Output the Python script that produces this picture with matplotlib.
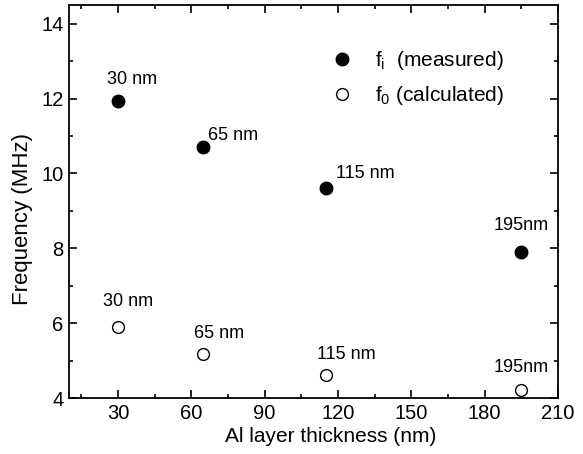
import matplotlib.pyplot as plt

plt.rcParams['font.family'] = ['Liberation Sans', 'DejaVu Sans']
plt.rcParams['mathtext.fontset'] = 'custom'
plt.rcParams['mathtext.rm'] = 'Liberation Sans'
plt.rcParams['mathtext.it'] = 'Liberation Sans'
plt.rcParams['mathtext.default'] = 'regular'

# data
thickness = [30, 65, 115, 195]
f_measured = [11.93, 10.70, 9.60, 7.90]
f_calculated = [5.90, 5.17, 4.62, 4.21]
labels_measured = ['30 nm', '65 nm', '115 nm', '195nm']
labels_calculated = ['30 nm', '65 nm', '115 nm', '195nm']

# label offsets (pixels) and alignment
offs_measured = [(-11, 22, 'left'), (5, 12, 'left'), (10, 15, 'left'), (0, 27, 'center')]
offs_calculated = [(-15, 25, 'left'), (-9, 21, 'left'), (-9, 20, 'left'), (0, 23, 'center')]

fig = plt.figure(figsize=(5.83, 4.54), dpi=100)
ax = fig.add_axes([0.1184, 0.1233, 0.957 - 0.1184, 0.989 - 0.1233])

ax.plot(thickness, f_measured, 'o', color='black', markersize=9, linestyle='none',
        label=r'f$_{\mathregular{i}}$  (measured)')
ax.plot(thickness, f_calculated, 'o', markerfacecolor='white', markeredgecolor='black',
        markeredgewidth=1.0, markersize=8.5, linestyle='none',
        label=r'f$_{\mathregular{0}}$ (calculated)')

for x, y, lab, (dx, dy, ha) in zip(thickness, f_measured, labels_measured, offs_measured):
    ax.annotate(lab, (x, y), xytext=(dx, dy), textcoords='offset pixels',
                ha=ha, va='center', fontsize=13)
for x, y, lab, (dx, dy, ha) in zip(thickness, f_calculated, labels_calculated, offs_calculated):
    ax.annotate(lab, (x, y), xytext=(dx, dy), textcoords='offset pixels',
                ha=ha, va='center', fontsize=13)

ax.set_xlim(10, 210)
ax.set_ylim(4, 14.5)
ax.set_xticks([30, 60, 90, 120, 150, 180, 210])
ax.set_xticks(range(15, 210, 30), minor=True)
ax.set_yticks([4, 6, 8, 10, 12, 14])
ax.set_yticks([5, 7, 9, 11, 13], minor=True)
ax.tick_params(which='both', direction='in', top=True, right=True, labelsize=14.5, width=1.2)
ax.tick_params(which='major', length=5.5, pad=4)
ax.tick_params(which='minor', length=3)
for s in ax.spines.values():
    s.set_linewidth(1.3)

ax.set_xlabel('Al layer thickness (nm)', fontsize=15, labelpad=3)
ax.xaxis.set_label_coords(0.536, -0.075)
ax.set_ylabel('Frequency (MHz)', fontsize=16)
ax.yaxis.set_label_coords(-0.074, 0.455)

ax.legend(loc='upper left', bbox_to_anchor=(0.533, 0.887), frameon=False, fontsize=15,
          borderpad=0, borderaxespad=0, handletextpad=1.0, labelspacing=0.55,
          handlelength=1.2)

fig.savefig('out.png', dpi=100)
